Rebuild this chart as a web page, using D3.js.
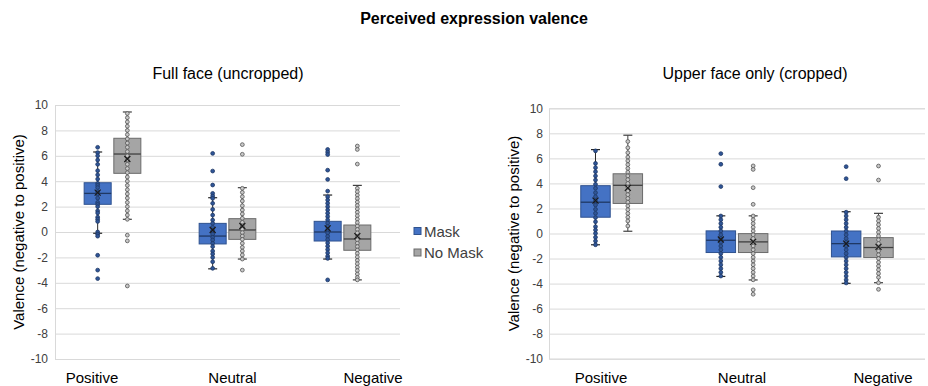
<!DOCTYPE html>
<html>
<head>
<meta charset="utf-8">
<script src="https://cdn.jsdelivr.net/npm/d3@7"></script>
<style>
  html, body { margin: 0; padding: 0; background: #fff; }
  svg { display: block; font-family: "Liberation Sans", Arial, sans-serif; }
</style>
</head>
<body>
<svg id="chart" width="928" height="386"></svg>
<script>
// ---------------- DATA ----------------
const chartTitle = "Perceived expression valence";
const panelTitles = ["Full face (uncropped)", "Upper face only (cropped)"];
const categories = ["Positive", "Neutral", "Negative"];
const seriesNames = ["Mask", "No Mask"];
const yTicks = [-10, -8, -6, -4, -2, 0, 2, 4, 6, 8, 10];
const yTickLabels = ["-10", "-8", "-6", "-4", "-2", "0", "2", "4", "6", "8", "10"];
const yAxisTitle = "Valence (negative to positive)";

// box stats per category: [whiskerLow, q1, median, q3, whiskerHigh, mean]
const fullMaskBox = [
  [-0.1, 2.18, 3.04, 3.88, 6.3, 3.1],
  [-2.9, -0.94, -0.32, 0.68, 2.7, 0.16],
  [-2.13, -0.71, 0.0, 0.84, 2.91, 0.29]
];
const fullNoMaskBox = [
  [1.0, 4.62, 6.14, 7.38, 9.45, 5.75],
  [-2.13, -0.58, 0.16, 1.05, 3.49, 0.47],
  [-3.77, -1.44, -0.55, 0.55, 3.67, -0.32]
];
const croppedMaskBox = [
  [-0.9, 1.3, 2.5, 3.82, 6.7, 2.63],
  [-3.43, -1.52, -0.54, 0.21, 1.41, -0.48],
  [-3.98, -1.87, -0.81, 0.2, 1.74, -0.81]
];
const croppedNoMaskBox = [
  [0.18, 2.4, 3.85, 4.77, 7.85, 3.65],
  [-3.71, -1.52, -0.67, -0.01, 1.41, -0.67],
  [-3.93, -1.92, -1.12, -0.33, 1.61, -1.07]
];

// individual points per category
const fullMaskPoints = [
  [6.67, 6.25, 6.0, 5.67, 5.33, 4.83, 4.5, 4.17, 3.83, 3.67, 3.5, 3.17, 3.0, 2.67, 2.33, 2.17, 2.0, 1.67, 1.5, 1.17, 1.0, 0.83, 0.0, -0.17, -0.33, -1.83, -3.0, -3.67],
  [6.19, 4.8, 3.7, 3.04, 2.83, 2.65, 2.26, 1.78, 1.33, 0.94, 0.68, 0.37, 0.1, -0.16, -0.42, -0.63, -0.89, -1.15, -1.5, -1.73, -2.0, -2.34, -2.86],
  [6.5, 6.29, 6.1, 4.87, 4.14, 3.22, 2.78, 2.52, 2.26, 2.0, 1.74, 1.48, 1.22, 0.96, 0.7, 0.44, 0.18, -0.08, -0.34, -0.6, -0.86, -1.12, -1.38, -1.64, -1.9, -2.08, -3.77]
];
const fullNoMaskPoints = [
  [9.33, 9.0, 8.67, 8.33, 8.0, 7.67, 7.33, 7.0, 6.67, 6.33, 6.0, 5.67, 5.33, 5.0, 4.67, 4.33, 4.0, 3.67, 3.33, 3.0, 2.67, 2.33, 2.0, 1.67, 1.33, 1.0, -0.25, -0.7, -4.25],
  [6.88, 6.12, 3.44, 3.12, 2.78, 2.44, 2.07, 1.73, 1.42, 1.08, 0.76, 0.47, 0.21, -0.05, -0.32, -0.58, -0.89, -1.21, -1.5, -1.81, -2.13, -3.0],
  [6.77, 6.5, 5.35, 3.44, 3.17, 2.9, 2.63, 2.36, 2.09, 1.82, 1.55, 1.28, 1.01, 0.74, 0.47, 0.2, -0.07, -0.34, -0.61, -0.88, -1.15, -1.42, -1.69, -1.96, -2.23, -2.5, -2.77, -3.04, -3.31, -3.58, -3.77]
];
const croppedMaskPoints = [
  [6.6, 5.6, 5.26, 4.94, 4.6, 4.27, 3.93, 3.61, 3.26, 2.94, 2.6, 2.28, 1.93, 1.61, 1.27, 0.94, 0.55, 0.28, 0.01, -0.3, -0.6, -0.9],
  [6.38, 5.53, 3.75, 1.4, 1.1, 0.8, 0.5, 0.2, -0.1, -0.4, -0.7, -1.0, -1.3, -1.6, -1.9, -2.2, -2.5, -2.8, -3.1, -3.4],
  [5.34, 4.38, 1.7, 1.4, 1.1, 0.8, 0.5, 0.2, -0.1, -0.4, -0.7, -1.0, -1.3, -1.6, -1.9, -2.2, -2.5, -2.8, -3.1, -3.4, -3.7, -3.95]
];
const croppedNoMaskPoints = [
  [7.35, 6.85, 6.45, 6.1, 5.8, 5.5, 5.2, 4.9, 4.6, 4.3, 4.0, 3.7, 3.4, 3.1, 2.8, 2.5, 2.2, 1.9, 1.6, 1.3, 1.0, 0.6],
  [5.4, 5.12, 3.66, 2.33, 1.4, 1.1, 0.8, 0.5, 0.2, -0.1, -0.4, -0.7, -1.0, -1.3, -1.6, -1.9, -2.2, -2.5, -2.8, -3.1, -3.4, -3.7, -4.5, -4.85],
  [5.39, 4.27, 1.3, 1.0, 0.7, 0.4, 0.1, -0.2, -0.5, -0.8, -1.1, -1.4, -1.7, -2.0, -2.3, -2.6, -2.9, -3.2, -3.5, -3.93, -4.46]
];

// ---------------- STYLE / LAYOUT ----------------
const seriesStyle = [
  { fill: "#4472C4", stroke: "#2F528F", median: "#1F3864", whisker: "#262626", dotFill: "#2F5597", dotStroke: "#1F3864" },
  { fill: "#A5A5A5", stroke: "#6B6B6B", median: "#404040", whisker: "#404040", dotFill: "#C8C8C8", dotStroke: "#555555" }
];

const panels = [
  { title: panelTitles[0], box: [fullMaskBox, fullNoMaskBox], pts: [fullMaskPoints, fullNoMaskPoints],
    x0: 55, x1: 400, yTop: 105, yBot: 359, tickX: 48, axisTitleX: 18, titleX: 228, labelRange: [92, 373] },
  { title: panelTitles[1], box: [croppedMaskBox, croppedNoMaskBox], pts: [croppedMaskPoints, croppedNoMaskPoints],
    x0: 549, x1: 925, yTop: 108.3, yBot: 358.7, tickX: 543, axisTitleX: 513, titleX: 755, labelRange: [601, 883] }
];

const svg = d3.select("#chart");

svg.append("text")
  .attr("x", 474).attr("y", 24)
  .attr("text-anchor", "middle")
  .attr("font-size", 16).attr("font-weight", "bold").attr("fill", "#000")
  .text(chartTitle);

panels.forEach(p => {
  const g = svg.append("g");
  const y = d3.scaleLinear().domain([-10, 10]).range([p.yBot, p.yTop]);
  const xBand = d3.scaleBand().domain(categories).range([p.x0, p.x1]).padding(0);
  const bw = xBand.bandwidth();
  const boxW = bw * 0.235;
  const gap = bw * 0.023;
  const xSeries = d3.scaleOrdinal().domain(seriesNames).range([-(gap / 2 + boxW / 2), gap / 2 + boxW / 2]);

  // panel title
  g.append("text").attr("x", p.titleX).attr("y", 79)
    .attr("text-anchor", "middle").attr("font-size", 16).attr("fill", "#000")
    .text(p.title);

  // gridlines + y axis labels
  const axis = d3.axisLeft(y).tickValues(yTicks).tickSize(-(p.x1 - p.x0))
    .tickFormat((d, i) => yTickLabels[i]);
  const ax = g.append("g").attr("transform", `translate(${p.x0},0)`).call(axis);
  ax.select(".domain").attr("stroke", "#D9D9D9");
  ax.selectAll(".tick line").attr("stroke", "#D9D9D9").attr("stroke-width", 1);
  ax.selectAll(".tick text").attr("x", p.tickX - p.x0).attr("fill", "#404040")
    .attr("font-size", 12).attr("font-family", "Liberation Sans, Arial, sans-serif");

  // y axis title
  g.append("text")
    .attr("transform", `translate(${p.axisTitleX},${(p.yTop + p.yBot) / 2}) rotate(-90)`)
    .attr("text-anchor", "middle").attr("dominant-baseline", "central")
    .attr("font-size", 15).attr("fill", "#000")
    .text(yAxisTitle);

  // category labels
  const xLab = d3.scalePoint().domain(categories).range(p.labelRange);
  g.selectAll(".cat").data(categories).join("text")
    .attr("x", d => xLab(d)).attr("y", 383)
    .attr("text-anchor", "middle").attr("font-size", 15).attr("fill", "#000")
    .text(d => d);

  // boxes
  seriesNames.forEach((s, si) => {
    const st = seriesStyle[si];
    categories.forEach((c, ci) => {
      const [lo, q1, med, q3, hi, mean] = p.box[si][ci];
      const cx = xBand(c) + bw / 2 + xSeries(s);
      const bg = g.append("g");
      // whiskers
      bg.append("line").attr("x1", cx).attr("x2", cx).attr("y1", y(q3)).attr("y2", y(hi))
        .attr("stroke", st.whisker).attr("stroke-width", 1);
      bg.append("line").attr("x1", cx).attr("x2", cx).attr("y1", y(q1)).attr("y2", y(lo))
        .attr("stroke", st.whisker).attr("stroke-width", 1);
      [lo, hi].forEach(v => {
        bg.append("line").attr("x1", cx - 4.5).attr("x2", cx + 4.5).attr("y1", y(v)).attr("y2", y(v))
          .attr("stroke", st.whisker).attr("stroke-width", 1.2);
      });
      // box
      bg.append("rect").attr("x", cx - boxW / 2).attr("y", y(q3))
        .attr("width", boxW).attr("height", y(q1) - y(q3))
        .attr("fill", st.fill).attr("stroke", st.stroke).attr("stroke-width", 1);
      bg.append("line").attr("x1", cx - boxW / 2).attr("x2", cx + boxW / 2).attr("y1", y(med)).attr("y2", y(med))
        .attr("stroke", st.median).attr("stroke-width", 1.3);
      // points
      bg.selectAll("circle").data(p.pts[si][ci]).join("circle")
        .attr("cx", cx).attr("cy", d => y(d)).attr("r", 1.9)
        .attr("fill", st.dotFill).attr("stroke", st.dotStroke).attr("stroke-width", 0.8);
      // mean marker
      const m = 3;
      bg.append("path")
        .attr("d", `M${cx - m},${y(mean) - m}L${cx + m},${y(mean) + m}M${cx - m},${y(mean) + m}L${cx + m},${y(mean) - m}`)
        .attr("stroke", "#1a1a1a").attr("stroke-width", 1.2).attr("fill", "none");
    });
  });
});

// legend
const legend = svg.append("g");
seriesNames.forEach((s, i) => {
  const yy = 231 + i * 21.5;
  legend.append("rect").attr("x", 414).attr("y", yy - 3.5).attr("width", 7).attr("height", 7)
    .attr("fill", seriesStyle[i].fill).attr("stroke", seriesStyle[i].stroke).attr("stroke-width", 1);
  legend.append("text").attr("x", 424).attr("y", yy).attr("dominant-baseline", "central")
    .attr("font-size", 15).attr("fill", "#404040").text(s);
});
</script>
</body>
</html>
